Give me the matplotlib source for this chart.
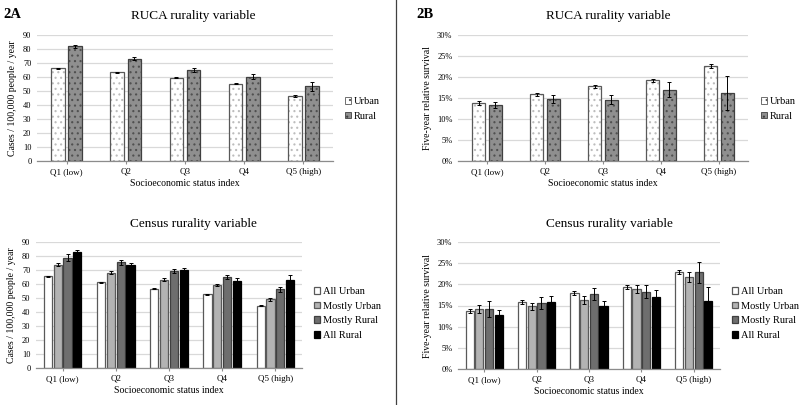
import numpy as np
import matplotlib
matplotlib.use("Agg")
import matplotlib.pyplot as plt
from matplotlib.ticker import PercentFormatter

plt.rcParams['font.family'] = ['Liberation Serif', 'DejaVu Serif']
plt.rcParams['hatch.linewidth'] = 0.8

# data
categories = ['Q1 (low)', 'Q2', 'Q3', 'Q4', 'Q5 (high)']

# 2A - incidence, RUCA
inc_ruca_urban = [66.3, 63.3, 59.5, 55.2, 46.4]
inc_ruca_urban_err = [0.4, 0.4, 0.4, 0.4, 0.4]
inc_ruca_rural = [81.8, 73.0, 65.2, 60.2, 53.4]
inc_ruca_rural_err = [1.1, 1.1, 1.3, 1.7, 3.2]

# 2A - incidence, census
inc_all_urban = [65.4, 61.1, 56.6, 52.6, 44.6]
inc_all_urban_err = [0.4, 0.4, 0.4, 0.4, 0.4]
inc_most_urban = [73.7, 68.2, 63.2, 59.5, 49.0]
inc_most_urban_err = [1.0, 0.8, 0.8, 0.8, 0.8]
inc_most_rural = [78.7, 75.5, 69.2, 65.2, 56.4]
inc_most_rural_err = [2.5, 1.6, 1.5, 1.5, 1.8]
inc_all_rural = [82.9, 73.9, 69.7, 62.4, 63.2]
inc_all_rural_err = [1.5, 1.3, 1.5, 1.7, 3.3]

# 2B - survival, RUCA (%)
surv_ruca_urban = [13.8, 15.9, 17.8, 19.2, 22.7]
surv_ruca_urban_err = [0.4, 0.4, 0.4, 0.4, 0.5]
surv_ruca_rural = [13.3, 14.8, 14.6, 17.0, 16.2]
surv_ruca_rural_err = [0.8, 0.9, 1.1, 1.7, 4.0]

# 2B - survival, census (%)
surv_all_urban = [13.7, 15.9, 17.9, 19.3, 23.0]
surv_all_urban_err = [0.4, 0.5, 0.5, 0.5, 0.5]
surv_most_urban = [14.2, 14.8, 16.3, 18.9, 21.7]
surv_most_urban_err = [0.9, 0.9, 0.9, 1.0, 1.1]
surv_most_rural = [14.2, 15.6, 17.8, 18.3, 22.8]
surv_most_rural_err = [1.8, 1.4, 1.4, 1.5, 2.4]
surv_all_rural = [12.7, 15.9, 14.9, 17.0, 16.1]
surv_all_rural_err = [1.2, 1.3, 1.2, 1.7, 3.3]

W, H = 800, 405
fig = plt.figure(figsize=(8, 4.05), dpi=100)


def px_axes(x0, y0, x1, y1):
    return fig.add_axes([x0 / W, 1 - y1 / H, (x1 - x0) / W, (y1 - y0) / H])


def style_axes(ax, ymax, step, ylabel, pct=False):
    ax.set_xlim(-0.5, len(categories) - 0.5)
    ax.set_ylim(0, ymax)
    ax.set_yticks(np.arange(0, ymax + 0.01, step))
    if pct:
        ax.yaxis.set_major_formatter(PercentFormatter(decimals=0))
    ax.grid(axis='y', color='#d9d9d9', linewidth=0.9)
    ax.set_axisbelow(True)
    for s in ['top', 'right', 'left']:
        ax.spines[s].set_visible(False)
    ax.spines['bottom'].set_color('#8c8c8c')
    ax.spines['bottom'].set_linewidth(0.9)
    ax.set_xticks(range(len(categories)))
    ax.set_xticklabels(categories, fontsize=6.5)
    ax.tick_params(axis='y', length=0, labelsize=6, pad=4)
    ax.tick_params(axis='x', length=2.5, color='#8c8c8c', pad=2.5)
    ax.set_xlabel('Socioeconomic status index', fontsize=7, labelpad=2.5)
    ax.set_ylabel(ylabel, fontsize=7, labelpad=4)


def hatched_bars(ax, x, vals, errs, width, face, dots, edge, label):
    ax.bar(x, vals, width, color=face, edgecolor=dots, hatch='...', linewidth=0)
    ax.bar(x, vals, width, facecolor='none', edgecolor=edge, linewidth=0.9)
    ax.errorbar(x, vals, yerr=errs, fmt='none', ecolor='black', elinewidth=0.7,
                capsize=1.6, capthick=0.7)
    return ax.bar([0], [0], 0, color=face, edgecolor=edge, hatch='...',
                  linewidth=0.6, label=label)


def two_series(ax, a, a_err, b, b_err):
    x = np.arange(len(categories))
    w = 0.23
    h1 = hatched_bars(ax, x - 0.145, a, a_err, w, 'white', '#bdbdbd', '#595959', 'Urban')
    h2 = hatched_bars(ax, x + 0.145, b, b_err, w, '#8f8f8f', '#505050', '#404040', 'Rural')
    return h1, h2


def four_series(ax, series):
    x = np.arange(len(categories))
    w = 0.155
    step = 0.185
    faces = ['white', '#b3b3b3', '#6e6e6e', 'black']
    edges = ['#595959', '#595959', '#404040', 'black']
    labels = ['All Urban', 'Mostly Urban', 'Mostly Rural', 'All Rural']
    for i, (vals, errs) in enumerate(series):
        pos = x + (i - 1.5) * step
        ax.bar(pos, vals, w, color=faces[i], edgecolor=edges[i], linewidth=0.9,
               label=labels[i])
        ax.errorbar(pos, vals, yerr=errs, fmt='none', ecolor='black',
                    elinewidth=0.7, capsize=1.6, capthick=0.7)


def add_legend(ax, x, y):
    ax.legend(loc='upper left', bbox_to_anchor=(x / W, 1 - y / H),
              bbox_transform=fig.transFigure, frameon=False, fontsize=7.5,
              handlelength=0.6, handleheight=0.6, handletextpad=0.25,
              labelspacing=0.55, borderpad=0, borderaxespad=0)


# top left
ax1 = px_axes(37, 35, 333, 161)
two_series(ax1, inc_ruca_urban, inc_ruca_urban_err, inc_ruca_rural, inc_ruca_rural_err)
style_axes(ax1, 90, 10, 'Cases / 100,000 people / year')
add_legend(ax1, 345, 97)

# top right
ax2 = px_axes(458, 35, 748, 161)
two_series(ax2, surv_ruca_urban, surv_ruca_urban_err, surv_ruca_rural, surv_ruca_rural_err)
style_axes(ax2, 30, 5, 'Five-year relative survival', pct=True)
add_legend(ax2, 761, 97)

# bottom left
ax3 = px_axes(36, 242, 302, 368)
four_series(ax3, [(inc_all_urban, inc_all_urban_err),
                  (inc_most_urban, inc_most_urban_err),
                  (inc_most_rural, inc_most_rural_err),
                  (inc_all_rural, inc_all_rural_err)])
style_axes(ax3, 90, 10, 'Cases / 100,000 people / year')
add_legend(ax3, 314, 287)

# bottom right
ax4 = px_axes(458, 242, 720, 369)
four_series(ax4, [(surv_all_urban, surv_all_urban_err),
                  (surv_most_urban, surv_most_urban_err),
                  (surv_most_rural, surv_most_rural_err),
                  (surv_all_rural, surv_all_rural_err)])
style_axes(ax4, 30, 5, 'Five-year relative survival', pct=True)
add_legend(ax4, 732, 287)

# titles and panel tags
fig.text(193 / W, 1 - 16 / H, 'RUCA rurality variable', ha='center', va='center', fontsize=9.5)
fig.text(608 / W, 1 - 16 / H, 'RUCA rurality variable', ha='center', va='center', fontsize=9.5)
fig.text(193 / W, 1 - 224 / H, 'Census rurality variable', ha='center', va='center', fontsize=9.5)
fig.text(609 / W, 1 - 224 / H, 'Census rurality variable', ha='center', va='center', fontsize=9.5)
fig.text(3 / W, 1 - 15 / H, '2A', ha='left', va='center', fontsize=10.5, fontweight='bold')
fig.text(416 / W, 1 - 15 / H, '2B', ha='left', va='center', fontsize=10.5, fontweight='bold')

# divider between the panels
fig.add_artist(plt.Line2D([396 / W, 396 / W], [0, 1], color='#404040', linewidth=0.9))

fig.savefig('out.png', dpi=100)
